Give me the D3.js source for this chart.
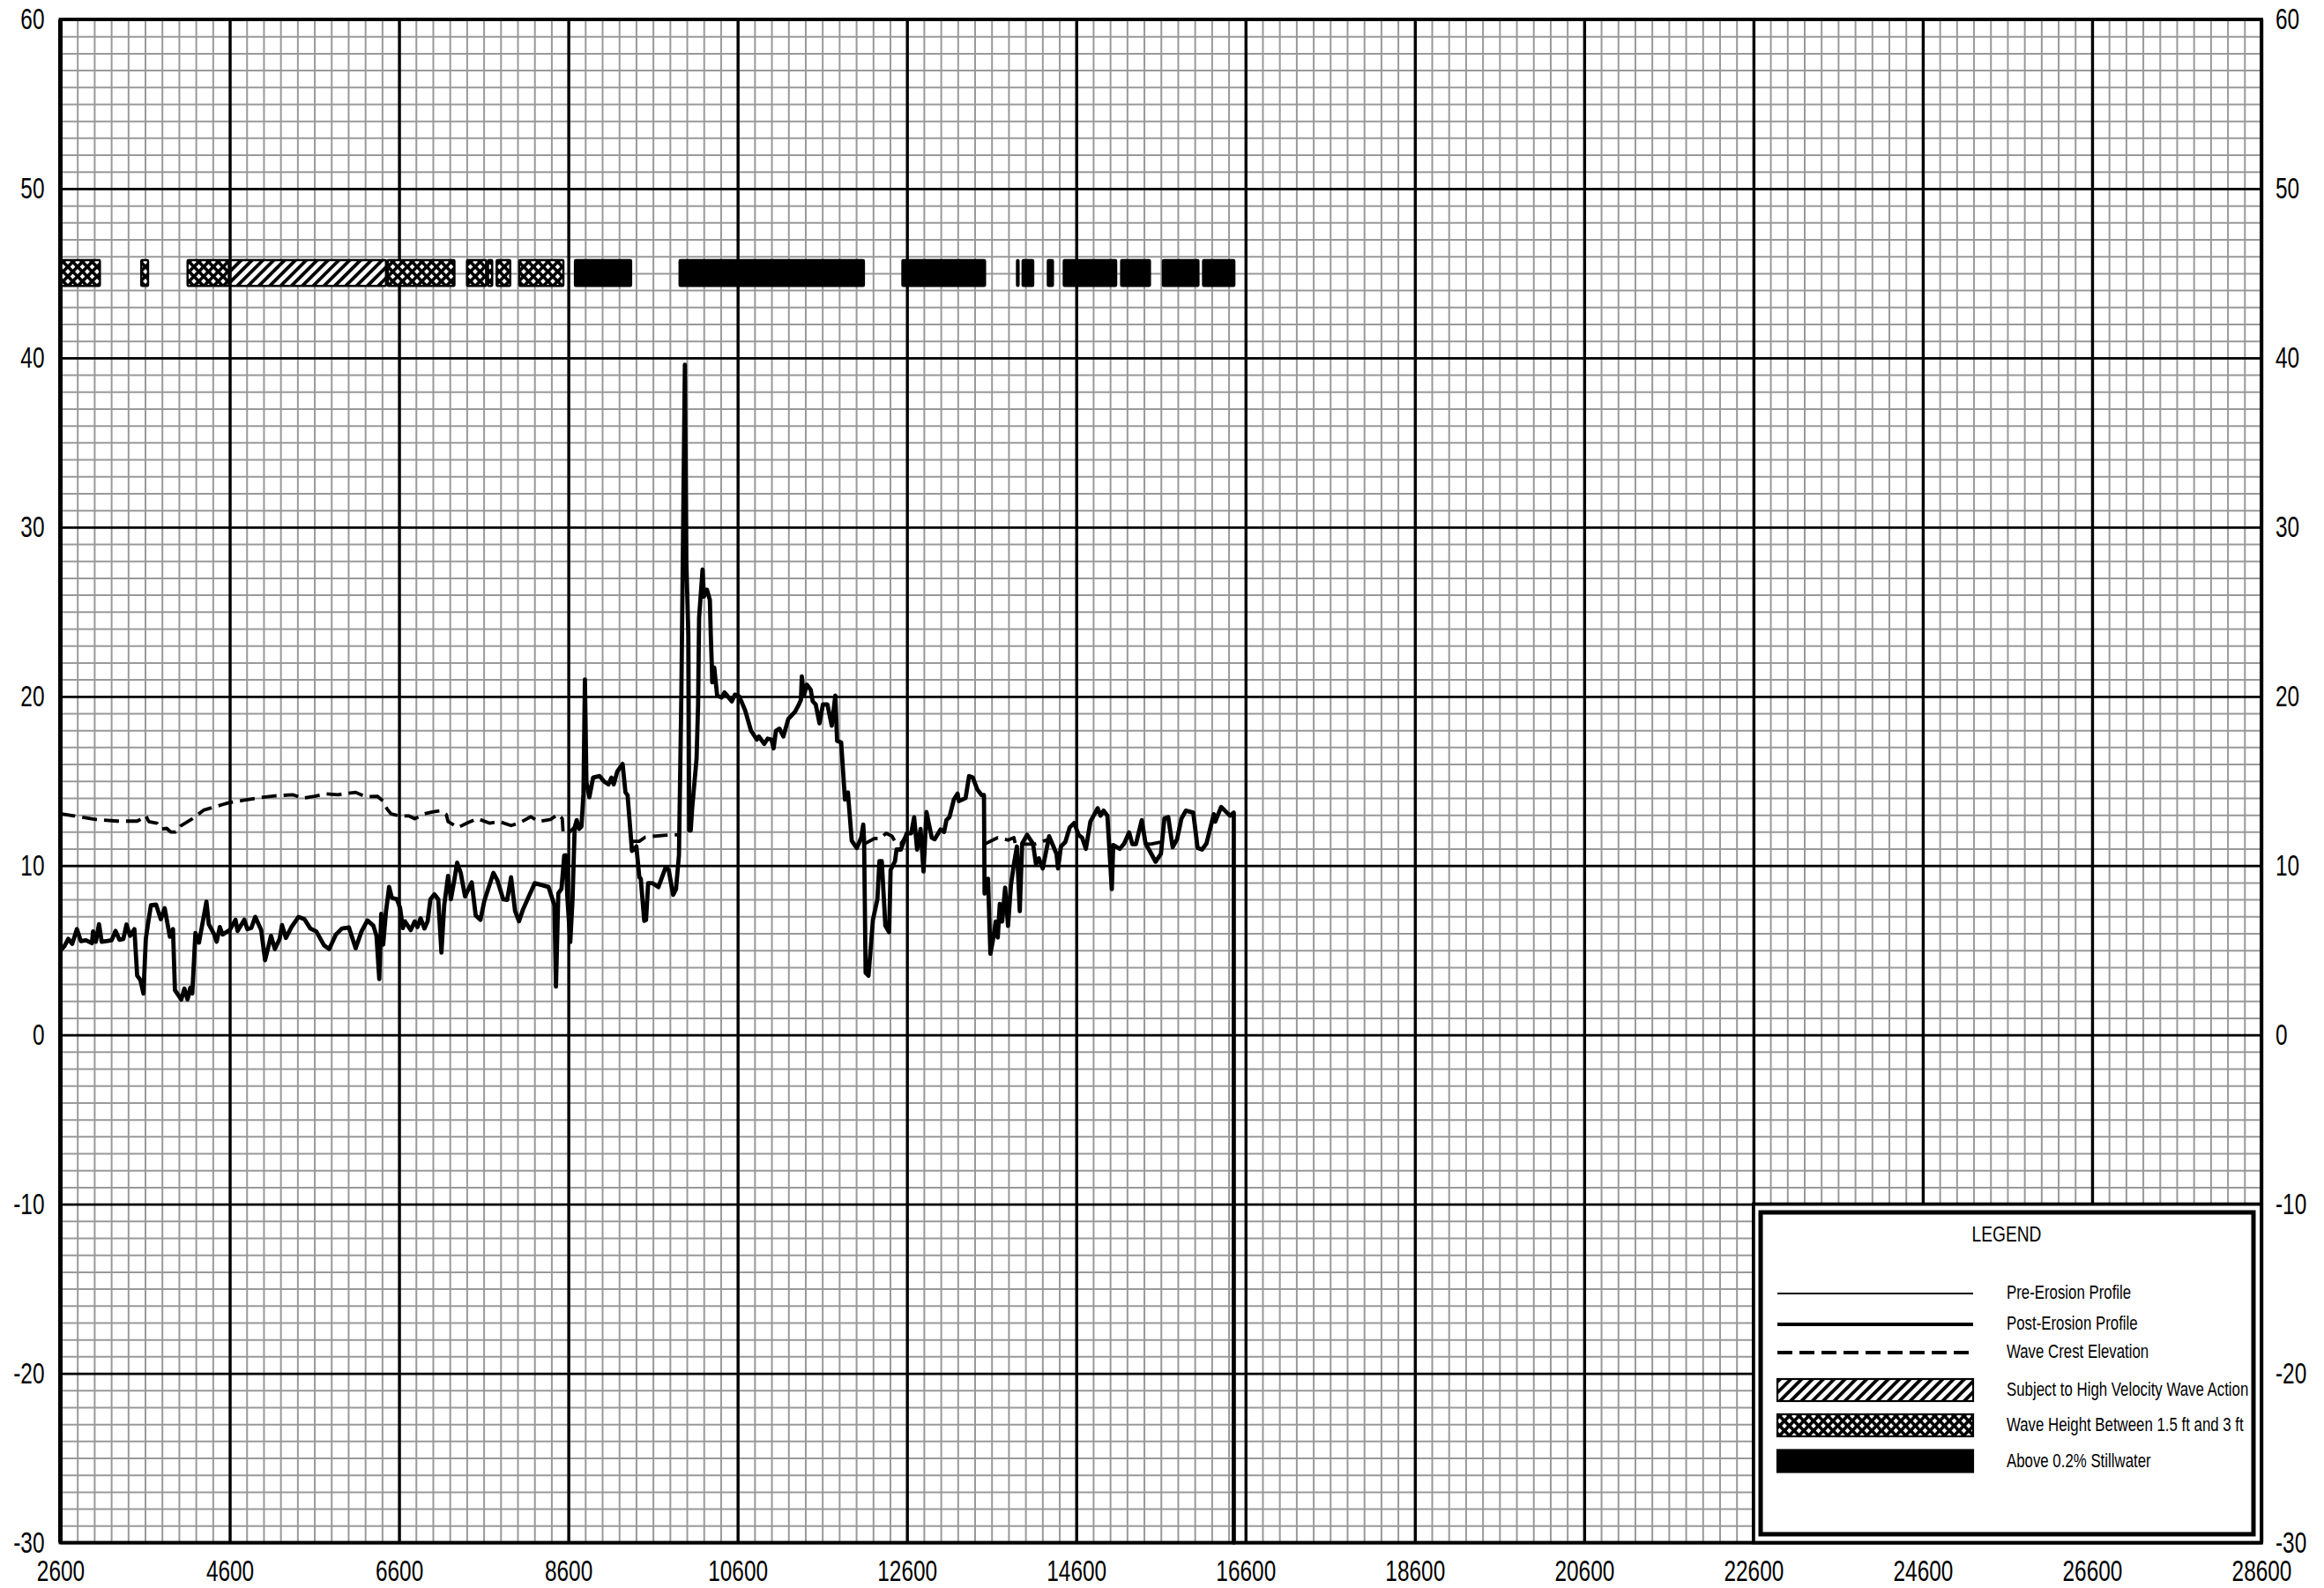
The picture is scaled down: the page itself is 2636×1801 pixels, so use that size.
<!DOCTYPE html>
<html><head><meta charset="utf-8">
<style>html,body{margin:0;padding:0;background:#fff}svg{display:block}text{font-family:"Liberation Sans",Arial,sans-serif;fill:#000}</style>
<script src="https://cdn.jsdelivr.net/npm/d3@7"></script>
</head><body><svg id="c" width="2636" height="1801"></svg>
<script>
const xMajorTicks = d3.range(2600, 28601, 2000);
const yMajorTicks = d3.range(-30, 61, 10);
const xMinorTicks = d3.range(2600, 28601, 200);
const yMinorTicks = d3.range(-30, 61, 1);

const postErosion = [
[2600,4.98],[2647,5.24],[2693,5.67],[2740,5.38],[2795,6.25],[2842,5.54],[2902,5.59],[2972,5.42],[2986,6.11],[3019,5.5],[3056,6.54],[3088,5.5],[3158,5.55],[3205,5.59],[3251,6.14],[3298,5.62],[3344,5.67],[3381,6.52],[3423,5.85],[3474,6.25],[3507,3.51],[3544,3.25],[3581,2.44],[3609,5.67],[3637,6.63],[3670,7.66],[3730,7.7],[3786,6.83],[3832,7.49],[3893,5.8],[3930,6.25],[3953,2.65],[4028,2.09],[4065,2.73],[4102,2.09],[4135,2.79],[4158,2.44],[4195,6.02],[4237,5.45],[4283,6.71],[4325,7.87],[4353,6.54],[4414,5.97],[4446,5.5],[4483,6.37],[4516,5.93],[4600,6.19],[4669,6.8],[4693,6.14],[4772,6.8],[4809,6.25],[4855,6.31],[4902,6.97],[4972,6.19],[5018,4.41],[5088,5.85],[5134,5.07],[5190,5.67],[5218,6.49],[5264,5.73],[5330,6.37],[5413,6.97],[5483,6.83],[5553,6.28],[5623,6.11],[5716,5.28],[5776,5.07],[5855,5.93],[5925,6.28],[6008,6.35],[6088,5.12],[6157,6.11],[6227,6.76],[6297,6.45],[6334,5.85],[6367,3.3],[6390,7.15],[6413,5.33],[6446,7.28],[6483,8.74],[6515,8.1],[6576,8.01],[6613,7.49],[6646,6.31],[6669,6.71],[6739,6.19],[6785,6.71],[6818,6.37],[6855,6.89],[6901,6.28],[6938,6.71],[6971,8.01],[7018,8.3],[7064,8.01],[7101,4.86],[7134,7.66],[7180,9.39],[7213,8.01],[7250,9.05],[7287,10.17],[7329,9.57],[7380,8.18],[7459,9.01],[7506,7.06],[7562,6.8],[7608,7.92],[7715,9.57],[7762,9.13],[7831,8.01],[7878,7.98],[7924,9.31],[7971,7.32],[8017,6.71],[8064,7.4],[8203,8.96],[8366,8.74],[8436,7.66],[8454,2.85],[8482,8.36],[8519,8.62],[8552,10.6],
[8570,10.61],[8588,8.18],[8623,5.49],[8650,8.01],[8675,12.25],[8699,12.69],[8727,12.17],[8755,12.31],[8779,14.25],[8796,21.0],[8814,14.94],[8848,14.04],[8893,15.2],[8970,15.29],[9022,14.97],[9074,14.8],[9109,15.2],[9136,14.8],[9178,15.55],[9241,16.01],[9275,14.33],[9300,14.16],[9352,10.87],[9379,10.95],[9404,11.13],[9439,9.31],[9456,9.22],[9497,6.74],[9518,6.79],[9543,8.96],[9595,8.96],[9664,8.73],[9751,9.91],[9786,9.74],[9838,8.27],[9872,8.61],[9907,10.61],[9935,20],[9977,39.6],[9994,28],[10018,23.6],[10028,12.08],[10046,12.08],[10063,13.38],[10115,16.33],[10133,19.5],[10145,24.67],[10186,27.5],[10202,25.9],[10238,26.3],[10272,25.7],[10283,23.6],[10296,21.7],[10300,20.83],[10324,21.7],[10358,20.05],[10410,19.93],[10445,20.23],[10532,19.71],[10567,20.1],[10619,20.0],[10688,19.19],[10758,17.97],[10827,17.45],[10851,17.63],[10914,17.19],[10955,17.5],[11000,17.45],[11025,16.93],[11053,17.97],[11094,18.09],[11140,17.63],[11199,18.67],[11279,19.1],[11324,19.53],[11348,19.79],[11358,21.18],[11383,20.05],[11418,20.69],[11463,20.4],[11487,19.71],[11522,19.53],[11567,18.41],[11608,19.53],[11660,19.53],[11712,18.27],[11754,20.05],[11775,17.37],[11823,17.28],[11868,13.9],[11903,14.33],[11948,11.47],[12008,11.04],[12060,11.65],[12084,12.43],[12094,11.47],[12112,3.67],[12146,3.5],[12198,6.79],[12251,8.0],[12275,10.26],[12303,10.26],[12345,6.45],[12390,6.07],[12407,9.74],[12459,10.26],[12477,10.95],[12529,10.95],[12598,11.91],[12650,11.91],[12685,12.86],[12720,10.95],[12761,12.17],[12796,9.65],[12831,13.17],[12893,11.65],[12928,11.56],[12997,12.13],[13039,11.99],[13067,12.69],[13102,12.86],[13154,13.9],[13199,14.25],[13213,13.81],[13293,13.99],[13334,15.29],
[13378,15.21],[13430,14.51],[13482,14.17],[13510,14.17],[13517,8.35],[13558,9.22],[13586,4.79],[13621,5.75],[13649,6.7],[13673,5.75],[13697,7.74],[13725,6.7],[13760,8.7],[13794,6.44],[13829,8.87],[13864,10.09],[13899,11.13],[13933,7.31],[13961,11.3],[14020,11.82],[14089,11.3],[14124,10.09],[14159,10.43],[14204,9.83],[14280,11.74],[14367,10.69],[14385,9.83],[14419,11.13],[14471,11.39],[14523,12.26],[14576,12.52],[14628,11.82],[14669,11.65],[14714,10.99],[14767,12.6],[14853,13.39],[14888,12.95],[14923,13.25],[14968,12.95],[15020,8.61],[15037,11.22],[15114,10.99],[15166,11.3],[15225,11.96],[15263,11.27],[15305,11.27],[15374,12.69],[15419,11.3],[15478,10.78],[15537,10.23],[15600,10.69],[15641,12.78],[15687,12.86],[15739,11.09],[15791,11.56],[15843,12.78],[15895,13.25],[15982,13.13],[16034,11.04],[16086,10.95],[16138,11.3],[16225,13.04],[16242,12.6],[16312,13.47],[16416,12.95],[16461,13.13],[16461,-30]
];

const waveCrest = [
[2600,13.06],[2763,12.94],[3019,12.73],[3274,12.63],[3507,12.63],[3563,12.77],[3609,12.94],[3646,12.6],[3739,12.51],[3795,12.16],[3856,12.2],[3902,11.99],[3962,11.99],[4018,12.34],[4158,12.77],[4297,13.29],[4414,13.46],[4590,13.72],[4762,13.86],[4948,14.01],[5134,14.12],[5344,14.19],[5460,13.98],[5599,14.1],[5739,14.24],[5878,14.19],[6088,14.33],[6204,14.07],[6343,14.1],[6413,13.81],[6460,13.34],[6506,13.06],[6599,12.94],[6715,12.94],[6785,12.77],[6901,13.06],[6994,13.17],[7087,13.24],[7157,13.03],[7180,12.6],[7297,12.25],[7413,12.54],[7529,12.77],[7669,12.51],[7785,12.6],[7924,12.37],[8017,12.51],[8157,12.89],[8250,12.6],[8389,12.73],[8482,13.03],[8529,12.77],[8538,11.99],[8599,11.9],[8699,12.4],null,
[9352,11.44],[9439,11.44],[9508,11.68],[9595,11.73],[9734,11.79],[9890,11.82],null,
[12093,11.27],[12215,11.6],[12284,11.6],[12353,11.91],[12423,11.74],[12475,11.3],[12527,11.27],[12597,11.82],null,
[13517,11.27],[13603,11.48],[13673,11.65],[13794,11.51],[13864,11.65],[13881,11.27],[13968,11.27],[14107,11.27],[14280,11.56],null,
[15419,11.3],[15478,11.27],[15600,11.39],null
];

const barTop = 45.83, barBottom = 44.2;
const crossBars = [[2600,3077],[3545,3646],[4092,4600],[6457,7265],[7393,7640],[7640,7711],[7743,7924],[8010,8552]];
const hatchBars = [[4600,6457]];
const solidBars = [[8668,9352],[9904,12102],[12536,13533],[13890,13929],[13956,14102],[14254,14335],[14442,15082],[15120,15481],[15613,16054],[16088,16478]];

const legendLabels = ["Pre-Erosion Profile","Post-Erosion Profile","Wave Crest Elevation","Subject to High Velocity Wave Action","Wave Height Between 1.5 ft and 3 ft","Above 0.2% Stillwater"];

const svg = d3.select("#c");
const x = d3.scaleLinear().domain([2600,28600]).range([68.5,2565]);
const y = d3.scaleLinear().domain([-30,60]).range([1749.5,22]);

const defs = svg.append("defs");
const pc = defs.append("pattern").attr("id","cross").attr("patternUnits","userSpaceOnUse").attr("width",11).attr("height",11);
pc.append("rect").attr("width",11).attr("height",11).attr("fill","#000");
pc.append("path").attr("fill","#fff").attr("d","M5.5 2.6L8.4 5.5L5.5 8.4L2.6 5.5ZM0 -2.9L2.9 0L0 2.9L-2.9 0ZM11 -2.9L13.9 0L11 2.9L8.1 0ZM0 8.1L2.9 11L0 13.9L-2.9 11ZM11 8.1L13.9 11L11 13.9L8.1 11Z");
const ph = defs.append("pattern").attr("id","hatch").attr("patternUnits","userSpaceOnUse").attr("width",8.7).attr("height",8.7).attr("patternTransform","rotate(45)");
ph.append("rect").attr("width",8.7).attr("height",8.7).attr("fill","#fff");
ph.append("rect").attr("width",3.8).attr("height",8.7).attr("fill","#000");

svg.append("rect").attr("width",2636).attr("height",1801).attr("fill","#fff");

// grid via axes
const minorX = svg.append("g").attr("transform",`translate(0,${y(-30)})`).call(d3.axisBottom(x).tickValues(xMinorTicks).tickSize(y(60)-y(-30)).tickFormat(""));
const minorY = svg.append("g").attr("transform",`translate(${x(2600)},0)`).call(d3.axisLeft(y).tickValues(yMinorTicks).tickSize(x(2600)-x(28600)).tickFormat(""));
[minorX,minorY].forEach(g=>{g.select(".domain").remove();g.selectAll("line").attr("stroke","#999").attr("stroke-width",2);});
const majorX = svg.append("g").attr("transform",`translate(0,${y(-30)})`).call(d3.axisBottom(x).tickValues(xMajorTicks).tickSize(y(60)-y(-30)).tickFormat(""));
const majorY = svg.append("g").attr("transform",`translate(${x(2600)},0)`).call(d3.axisLeft(y).tickValues(yMajorTicks).tickSize(x(2600)-x(28600)).tickFormat(""));
majorX.select(".domain").remove();majorY.select(".domain").remove();
majorX.selectAll("line").attr("stroke","#000").attr("stroke-width",3.4);
majorY.selectAll("line").attr("stroke","#000").attr("stroke-width",2.8);

// frame
svg.append("rect").attr("x",x(2600)).attr("y",y(60)).attr("width",x(28600)-x(2600)).attr("height",y(-30)-y(60)).attr("fill","none").attr("stroke","#000").attr("stroke-width",3.8);
svg.append("line").attr("x1",x(2600)).attr("x2",x(2600)).attr("y1",y(60)).attr("y2",y(-30)).attr("stroke","#000").attr("stroke-width",5);

// bars
function bars(data, fill){
  svg.append("g").selectAll("rect").data(data).join("rect")
    .attr("x",d=>x(d[0])+1).attr("width",d=>x(d[1])-x(d[0])-2)
    .attr("y",y(barTop)+1).attr("height",y(barBottom)-y(barTop)-2)
    .attr("fill",fill).attr("stroke","#000").attr("stroke-width",2.5).attr("rx",1);
}
bars(crossBars,"url(#cross)");
bars(hatchBars,"url(#hatch)");
bars(solidBars,"#000");

// lines
const crestLine = d3.line().defined(d=>d!==null).x(d=>x(d[0])).y(d=>y(d[1]));
svg.append("path").attr("d",crestLine(waveCrest)).attr("fill","none").attr("stroke","#000").attr("stroke-width",3.8).attr("stroke-dasharray","17 8").attr("stroke-linejoin","round");
svg.append("path").attr("d",d3.line().x(d=>x(d[0])).y(d=>y(d[1]))(postErosion)).attr("fill","none").attr("stroke","#000").attr("stroke-width",4.8).attr("stroke-linejoin","round").attr("stroke-linecap","round");

// axis labels
const sx = 0.74;
const bottom = svg.append("g").attr("transform",`translate(0,${y(-30)})`).call(d3.axisBottom(x).tickValues(xMajorTicks).tickSize(0).tickPadding(20).tickFormat(String));
const left = svg.append("g").attr("transform",`translate(${x(2600)},0)`).call(d3.axisLeft(y).tickValues(yMajorTicks).tickSize(0).tickFormat(String));
const right = svg.append("g").attr("transform",`translate(${x(28600)},0)`).call(d3.axisRight(y).tickValues(yMajorTicks).tickSize(0).tickFormat(String));
[bottom,left,right].forEach(g=>{g.select(".domain").remove();g.selectAll("text").attr("font-size",33).attr("font-family",null).attr("transform",`scale(${sx},1)`);});
left.selectAll("text").attr("x",-18/sx);
right.selectAll("text").attr("x",16/sx);

// legend
const lg = svg.append("g");
lg.append("rect").attr("x",x(22600)).attr("y",y(-10)).attr("width",x(28600)-x(22600)).attr("height",y(-30)-y(-10)).attr("fill","#fff").attr("stroke","#000").attr("stroke-width",3.8);
lg.append("rect").attr("x",1997).attr("y",1375).attr("width",559).attr("height",365).attr("fill","none").attr("stroke","#000").attr("stroke-width",5);
lg.append("text").attr("transform","translate(2276,1408) scale(0.8,1)").attr("text-anchor","middle").attr("font-size",24).text("LEGEND");
const sx0 = 2016, sx1 = 2238, tx = 2276;
lg.append("line").attr("x1",sx0).attr("x2",sx1).attr("y1",1467).attr("y2",1467).attr("stroke","#000").attr("stroke-width",2);
lg.append("line").attr("x1",sx0).attr("x2",sx1).attr("y1",1502).attr("y2",1502).attr("stroke","#000").attr("stroke-width",4);
lg.append("line").attr("x1",sx0).attr("x2",sx1).attr("y1",1534).attr("y2",1534).attr("stroke","#000").attr("stroke-width",3.8).attr("stroke-dasharray","17 8");
[["url(#hatch)",1564],["url(#cross)",1604],["#000",1644.5]].forEach(([f,yy])=>{
  lg.append("rect").attr("x",sx0).attr("y",yy).attr("width",sx1-sx0).attr("height",25).attr("fill",f).attr("stroke","#000").attr("stroke-width",2.2);
});
const ty = [1473,1508,1540,1583,1623,1664];
legendLabels.forEach((t,i)=>{
  lg.append("text").attr("transform",`translate(${tx},${ty[i]}) scale(0.765,1)`).attr("font-size",22).text(t);
});
</script></body></html>
